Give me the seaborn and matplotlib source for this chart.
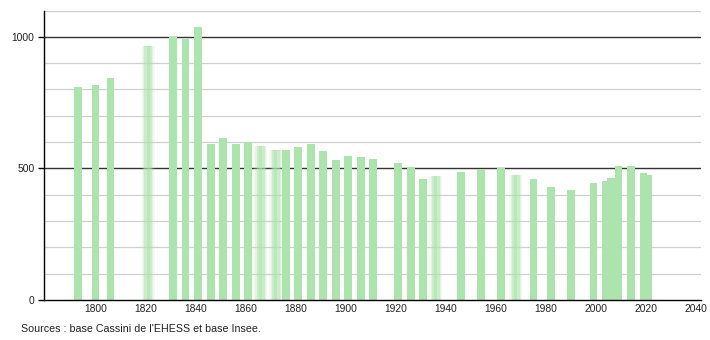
import matplotlib
matplotlib.use("Agg")
import matplotlib.pyplot as plt
import seaborn as sns
import pandas as pd
from matplotlib.patches import Rectangle

years = [1793, 1800, 1806, 1821, 1831, 1836, 1841, 1846, 1851, 1856,
         1861, 1866, 1872, 1876, 1881, 1886, 1891, 1896, 1901, 1906,
         1911, 1921, 1926, 1931, 1936, 1946, 1954, 1962, 1968, 1975,
         1982, 1990, 1999, 2004, 2006, 2009, 2014, 2019, 2021]
population = [809, 818, 845, 967, 1000, 993, 1036, 594, 617, 594,
              600, 587, 571, 571, 582, 591, 565, 533, 549, 544,
              537, 520, 505, 461, 473, 487, 499, 500, 475, 461,
              429, 419, 445, 452, 463, 510, 510, 483, 476]
x_tick_years = [1800, 1820, 1840, 1860, 1880, 1900, 1920, 1940, 1960, 1980, 2000, 2020, 2040]
y_major = [0, 500, 1000]
y_minor = [100, 200, 300, 400, 600, 700, 800, 900, 1100]
fuzzy_years = [1821, 1866, 1872, 1936, 1968]
source_text = "Sources : base Cassini de l'EHESS et base Insee."

sns.set_theme(style="white")
plt.rcParams["font.family"] = ["Liberation Sans", "DejaVu Sans"]

df = pd.DataFrame({"year": years, "population": population})

fig = plt.figure(figsize=(7.1, 3.4), dpi=100)
ax = fig.add_axes([44.3 / 710, 40 / 340, (701 - 44.3) / 710, (300 - 10.5) / 340])

bar_color = "#ade3ad"
sns.barplot(data=df, x="year", y="population", native_scale=True, width=1.54,
            color=bar_color, saturation=1, ax=ax, zorder=3, linewidth=0)

# soften some bars (blurred look in reference)
for patch, yr in zip(ax.patches, years):
    if yr in fuzzy_years:
        patch.set_alpha(0.45)
        x0, w, h = patch.get_x(), patch.get_width(), patch.get_height()
        for k, a in [(0.35, 0.25), (0.7, 0.15)]:
            ax.add_patch(Rectangle((x0 - w * k / 2, 0), w * (1 + k), h,
                                   facecolor=bar_color, alpha=a, linewidth=0, zorder=2.9))
        ax.add_patch(Rectangle((x0 + w * 0.3, 0), w * 0.4, h,
                               facecolor=bar_color, alpha=0.45, linewidth=0, zorder=3.1))

ax.set_xlim(1779.5, 2042)
ax.set_ylim(0, 1100)

ax.set_xticks(x_tick_years)
ax.set_xticklabels([str(y) for y in x_tick_years])
ax.set_yticks(y_major)
ax.set_yticklabels([str(v) for v in y_major])
ax.set_yticks(y_minor, minor=True)

for v in y_minor:
    ax.axhline(v, color="#d0d0d0", linewidth=0.9, zorder=1)
for v in y_major[1:]:
    ax.axhline(v, color="#333333", linewidth=1.0, zorder=1)

ax.set_xlabel("")
ax.set_ylabel("")
for s in ["top", "right"]:
    ax.spines[s].set_visible(False)
for s in ["left", "bottom"]:
    ax.spines[s].set_color("black")
    ax.spines[s].set_linewidth(1.0)
    ax.spines[s].set_zorder(4)

ax.tick_params(axis="x", which="both", length=0, pad=3, labelsize=7.4, colors="#222222")
ax.tick_params(axis="y", which="major", length=4, width=1, pad=3, labelsize=7.4,
               colors="black", labelcolor="#222222", left=True)
ax.tick_params(axis="y", which="minor", length=0)

fig.text(21 / 710, 1 - 329 / 340, source_text, fontsize=7.7, ha="left", va="center",
         color="#222222")

fig.savefig("out.png", dpi=100)
